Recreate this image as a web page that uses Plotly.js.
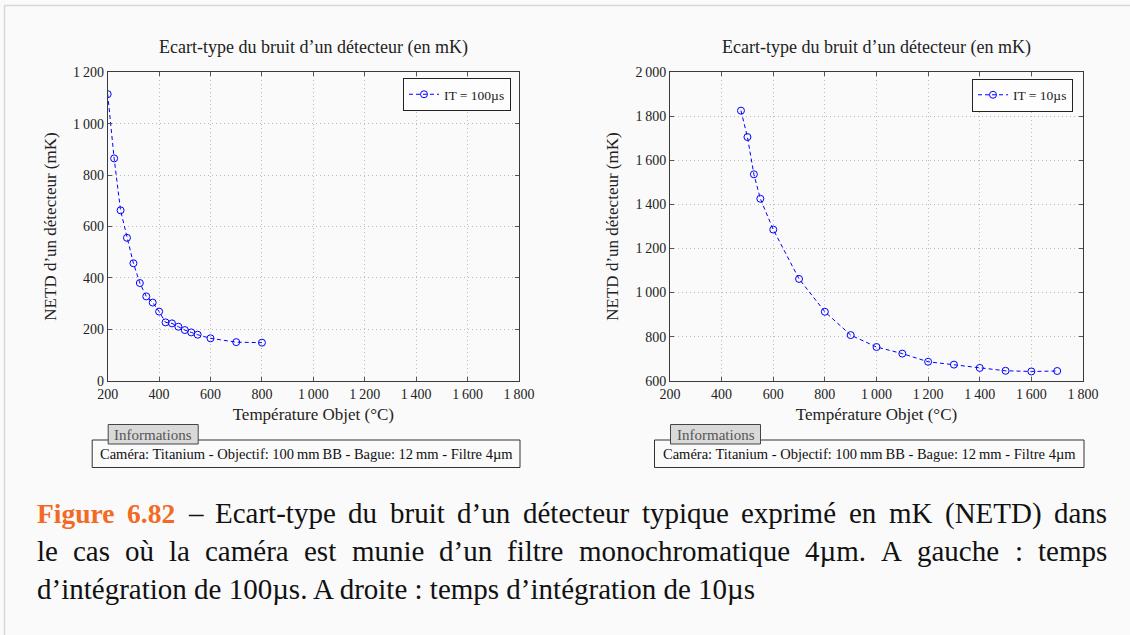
<!DOCTYPE html>
<html><head><meta charset="utf-8">
<script src="https://cdn.plot.ly/plotly-3.0.1.min.js"></script>
<style>html,body{margin:0;padding:0;background:#fafafa;} #chart{width:1130px;height:635px;}</style>
</head><body><div id="chart"></div>
<script>
// ---- data ----
const leftTemps  = [200,225,250,275,300,325,350,375,400,425,450,475,500,525,550,600,700,800];
const leftNetd   = [1115,865,663,556,457,380,328,304,269,227,223,210,197,188,179,165,150,148];
const rightTemps = [475,500,525,550,600,700,800,900,1000,1100,1200,1300,1400,1500,1600,1700];
const rightNetd  = [1826,1706,1537,1426,1286,1062,913,807,753,723,686,673,658,645,642,644];
const xTicks      = [200,400,600,800,1000,1200,1400,1600,1800];
const leftYTicks  = [0,200,400,600,800,1000,1200];
const rightYTicks = [600,800,1000,1200,1400,1600,1800,2000];
const seriesNames = ['IT = 100µs','IT = 10µs'];
const chartTitle = 'Ecart-type du bruit d’un détecteur (en mK)';
const xTitle = 'Température Objet (°C)';
const yTitle = 'NETD d’un détecteur (mK)';
const infoTab = 'Informations';
const infoText = 'Caméra: Titanium - Objectif: 100\u2009mm\u2009BB - Bague: 12\u2009mm - Filtre 4µm';
const captionLines = [
  'Figure 6.82 – Ecart-type du bruit d’un détecteur typique exprimé en mK (NETD) dans',
  'le cas où la caméra est munie d’un filtre monochromatique 4µm. A gauche : temps',
  'd’intégration de 100µs. A droite : temps d’intégration de 10µs'
];

// ---- layout helpers ----
const W = 1130, H = 635;
const px = x => x / W;
const py = y => 1 - y / H;
const F = 'Liberation Serif';
const CF = 'Liberation Serif';
const fmt = v => v >= 1000 ? String(v).replace(/(\d)(\d{3})$/, '$1\u2009$2') : String(v);

function axisBase(extra) {
  return Object.assign({
    showline: true, linecolor: '#3a3a3a', linewidth: 1, mirror: 'ticks',
    ticks: 'inside', ticklen: 4, tickcolor: '#555', tickwidth: 1,
    showgrid: true, gridcolor: '#bcbcbc', griddash: '1px,3px', gridwidth: 1,
    zeroline: false, fixedrange: true, automargin: false,
    tickfont: {family: F, size: 14, color: '#222'}
  }, extra);
}

const L = {x0: 107.7, x1: 519, y0: 72.3, y1: 380.7};
const R = {x0: 670, x1: 1083, y0: 72.3, y1: 380.7};

const lineStyle = {color: '#0000ff', width: 1, dash: '4px,3px'};
const markerStyle = {symbol: 'circle-open', size: 7, color: '#0000ff', line: {width: 1, color: '#0000ff'}};

const traces = [
  {x: leftTemps, y: leftNetd, xaxis: 'x', yaxis: 'y', mode: 'lines+markers', name: seriesNames[0],
   line: lineStyle, marker: markerStyle, legend: 'legend', hoverinfo: 'x+y'},
  {x: rightTemps, y: rightNetd, xaxis: 'x2', yaxis: 'y2', mode: 'lines+markers', name: seriesNames[1],
   line: lineStyle, marker: markerStyle, legend: 'legend2', hoverinfo: 'x+y'}
];

const titleFont = {family: F, size: 17, color: '#222'};
const legendBase = {
  bgcolor: '#fdfdfd', bordercolor: '#222', borderwidth: 1,
  font: {family: F, size: 13.5, color: '#222'}, yanchor: 'top', xanchor: 'right',
  tracegroupgap: 0, itemwidth: 30
};

const shapes = [
  // page frame
  {type: 'line', xref: 'paper', yref: 'paper', x0: px(4.5), x1: px(1130), y0: py(5.5), y1: py(5.5), line: {color: '#d8d8d8', width: 1.5}},
  {type: 'line', xref: 'paper', yref: 'paper', x0: px(4.5), x1: px(4.5), y0: py(5.5), y1: py(635), line: {color: '#d8d8d8', width: 1.5}},
];
const annotations = [];

[L, R].forEach(P => {
  // subplot title
  annotations.push({xref: 'paper', yref: 'paper', x: px((P.x0 + P.x1) / 2), y: py(47.5), xanchor: 'center', yanchor: 'middle',
    text: chartTitle, showarrow: false, font: {family: F, size: 18, color: '#222'}});
  // info box
  const bx0 = P.x0 - 15.5, bx1 = P.x1 + 1;
  shapes.push({type: 'rect', xref: 'paper', yref: 'paper', x0: px(bx0), x1: px(bx1), y0: py(440), y1: py(467.5),
    line: {color: '#333', width: 1}, fillcolor: '#fafafa'});
  shapes.push({type: 'rect', xref: 'paper', yref: 'paper', x0: px(P.x0 + 0.5), x1: px(P.x0 + 90.5), y0: py(424.5), y1: py(444),
    line: {color: '#444', width: 1}, fillcolor: '#d9d9d9'});
  annotations.push({xref: 'paper', yref: 'paper', x: px(P.x0 + 45.5), y: py(434.5), xanchor: 'center', yanchor: 'middle',
    text: infoTab, showarrow: false, font: {family: F, size: 15, color: '#555'}});
  annotations.push({xref: 'paper', yref: 'paper', x: px((bx0 + bx1) / 2), y: py(453.5), xanchor: 'center', yanchor: 'middle',
    text: infoText, showarrow: false, font: {family: F, size: 14.5, color: '#111'}});
});

// ---- caption (justified like the source) ----
const cv = document.createElement('canvas').getContext('2d');
function tw(t, size, bold) { cv.font = (bold ? 'bold ' : '') + size + 'px "' + CF + '"'; return cv.measureText(t).width; }
const capLeft = 36, capRight = 1106, lineY = [513, 551, 589];
const capSize = 29, capBoldSize = 27.5;
const orange = '#f26a24';
captionLines.forEach((ln, i) => {
  const words = ln.split(' ');
  const bolds = words.map((w, j) => i === 0 && j < 2);
  if (i < 2) {
    const widths = words.map((w, j) => tw(w, bolds[j] ? capBoldSize : capSize, bolds[j]));
    const total = widths.reduce((a, b) => a + b, 0);
    const gap = (capRight - capLeft - total) / (words.length - 1);
    let cx = capLeft;
    words.forEach((w, j) => {
      annotations.push({xref: 'paper', yref: 'paper', x: px(cx - 1), y: py(lineY[i]), xanchor: 'left', yanchor: 'middle',
        text: bolds[j] ? '<b>' + w + '</b>' : w, showarrow: false,
        font: {family: CF, size: bolds[j] ? capBoldSize : capSize, color: bolds[j] ? orange : '#111'}});
      cx += widths[j] + gap;
    });
  } else {
    annotations.push({xref: 'paper', yref: 'paper', x: px(capLeft - 1), y: py(lineY[i]), xanchor: 'left', yanchor: 'middle',
      text: ln, showarrow: false, font: {family: CF, size: capSize, color: '#111'}});
  }
});

const layout = {
  width: W, height: H, margin: {l: 0, r: 0, t: 0, b: 0},
  paper_bgcolor: '#fafafa', plot_bgcolor: 'rgba(0,0,0,0)',
  showlegend: true,
  xaxis: axisBase({domain: [px(L.x0), px(L.x1)], range: [200, 1800], anchor: 'y',
    tickvals: xTicks, ticktext: xTicks.map(fmt), title: {text: xTitle, font: titleFont, standoff: 7}}),
  yaxis: axisBase({domain: [py(L.y1), py(L.y0)], range: [0, 1200], anchor: 'x',
    tickvals: leftYTicks, ticktext: leftYTicks.map(fmt), title: {text: yTitle, font: titleFont, standoff: 12}}),
  xaxis2: axisBase({domain: [px(R.x0), px(R.x1)], range: [200, 1800], anchor: 'y2',
    tickvals: xTicks, ticktext: xTicks.map(fmt), title: {text: xTitle, font: titleFont, standoff: 7}}),
  yaxis2: axisBase({domain: [py(R.y1), py(R.y0)], range: [600, 2000], anchor: 'x2',
    tickvals: rightYTicks, ticktext: rightYTicks.map(fmt), title: {text: yTitle, font: titleFont, standoff: 12}}),
  legend: Object.assign({}, legendBase, {x: px(511), y: py(78)}),
  legend2: Object.assign({}, legendBase, {x: px(1073), y: py(78.5)}),
  shapes: shapes, annotations: annotations
};

Plotly.newPlot('chart', traces, layout, {displayModeBar: false, staticPlot: false});
</script>
</body></html>
